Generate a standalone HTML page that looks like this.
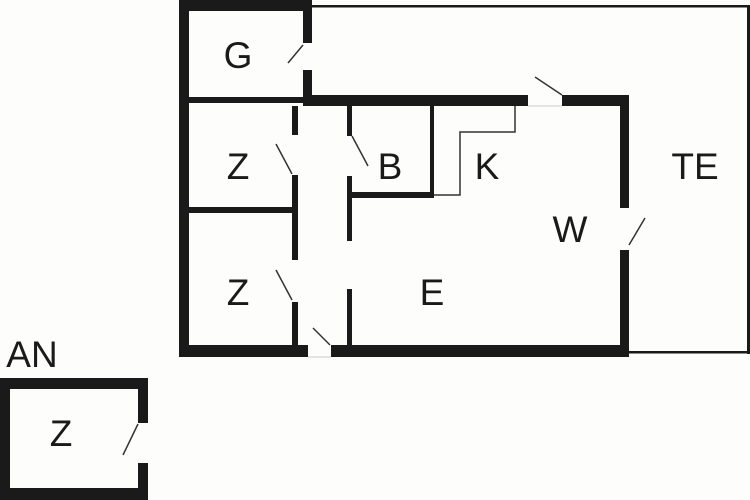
<!DOCTYPE html>
<html><head><meta charset="utf-8"><style>
html,body{margin:0;padding:0;background:#fdfdfc;}
svg{display:block;}
text{font-family:"Liberation Sans",sans-serif;font-size:37px;fill:#1a1a1a;text-anchor:middle;}
</style></head><body>
<svg width="750" height="500" viewBox="0 0 750 500">
<rect width="750" height="500" fill="#fdfdfc"/>
<g fill="#1a1a1a">
<!-- terrace outline -->
<rect x="312" y="5" width="438" height="2.5"/>
<rect x="747" y="5" width="3" height="349"/>
<rect x="628" y="351" width="122" height="2.5"/>
<!-- outer left wall -->
<rect x="179" y="0" width="10" height="357"/>
<!-- top wall G -->
<rect x="179" y="0" width="133" height="11"/>
<!-- G right wall with door gap -->
<rect x="303" y="0" width="9" height="43"/>
<rect x="303" y="70" width="9" height="36"/>
<!-- G bottom -->
<rect x="189" y="97" width="114" height="6"/>
<!-- main horizontal wall -->
<rect x="303" y="95" width="225" height="11"/>
<rect x="562" y="95" width="67" height="11"/>
<!-- right wall W -->
<rect x="620" y="95" width="9" height="113"/>
<rect x="620" y="250" width="9" height="107"/>
<!-- bottom wall -->
<rect x="179" y="345" width="129" height="12"/>
<rect x="331" y="345" width="298" height="12"/>
<!-- Z right wall -->
<rect x="292" y="106" width="6" height="29"/>
<rect x="292" y="175" width="6" height="85"/>
<rect x="292" y="302" width="6" height="45"/>
<!-- Z divider -->
<rect x="189" y="207" width="103" height="6"/>
<!-- B left wall -->
<rect x="347" y="106" width="5" height="30"/>
<rect x="347" y="176" width="5" height="65"/>
<rect x="347" y="289" width="5" height="58"/>
<!-- B bottom & right -->
<rect x="352" y="192" width="82" height="6"/>
<rect x="430" y="106" width="4" height="92"/>
<!-- AN -->
<rect x="0" y="378" width="148" height="11"/>
<rect x="0" y="378" width="10" height="122"/>
<rect x="0" y="488" width="148" height="12"/>
<rect x="138" y="378" width="10" height="45"/>
<rect x="138" y="463" width="10" height="37"/>
</g>
<g stroke="#333" stroke-width="1.5" fill="none">
<polyline points="434,195 460,195 460,132 515,132 515,106"/>
<line x1="288" y1="63" x2="303" y2="45"/>
<line x1="276" y1="144" x2="292" y2="174"/>
<line x1="276" y1="270" x2="292" y2="300"/>
<line x1="352" y1="136" x2="368" y2="166"/>
<line x1="313" y1="328" x2="330" y2="345"/>
<line x1="535" y1="77" x2="562" y2="95"/>
<line x1="629" y1="245" x2="645" y2="218"/>
<line x1="123" y1="455" x2="138" y2="424"/>
</g>
<g stroke="#ccc" stroke-width="1" fill="none">
<line x1="528" y1="106" x2="562" y2="106"/>
<line x1="308" y1="357" x2="331" y2="357"/>
</g>
<text x="238" y="68">G</text>
<text x="238" y="179">Z</text>
<text x="390" y="179">B</text>
<text x="487" y="179">K</text>
<text x="695" y="179">TE</text>
<text x="570" y="242">W</text>
<text x="238" y="305">Z</text>
<text x="432" y="305">E</text>
<text x="32" y="367">AN</text>
<text x="61" y="446">Z</text>
</svg>
</body></html>
